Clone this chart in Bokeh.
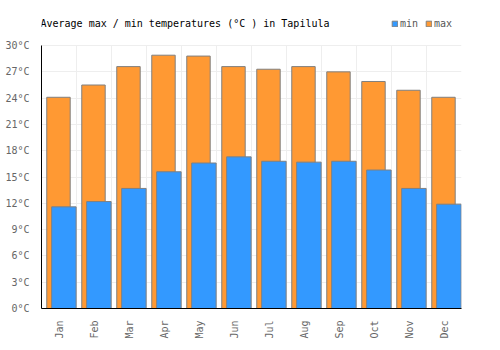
import numpy as np
from bokeh.plotting import figure
from bokeh.models import (ColumnDataSource, FixedTicker, PrintfTickFormatter,
                          Legend, LegendItem, Range1d, Label)
from bokeh.embed import file_html
from bokeh.resources import INLINE

months = ["Jan", "Feb", "Mar", "Apr", "May", "Jun",
          "Jul", "Aug", "Sep", "Oct", "Nov", "Dec"]
t_max = [24.1, 25.5, 27.6, 28.9, 28.8, 27.6, 27.3, 27.6, 27.0, 25.9, 24.9, 24.1]
t_min = [11.6, 12.2, 13.7, 15.6, 16.6, 17.3, 16.8, 16.7, 16.8, 15.8, 13.7, 11.9]
y_ticks = [0, 3, 6, 9, 12, 15, 18, 21, 24, 27, 30]

FONT = "DejaVu Sans Mono"
idx = np.arange(len(months))
src = ColumnDataSource(dict(
    month=months, tmax=t_max, tmin=t_min,
    xmax=idx + 0.485, xmin=idx + 0.64,
))

# frame extends above the 30°C line to host title and legend
p = figure(width=500, height=350, output_backend="svg", toolbar_location=None,
           x_range=Range1d(0, 12), y_range=Range1d(0, 34),
           min_border_left=41, min_border_right=39,
           min_border_top=10, min_border_bottom=42)
p.outline_line_color = None
p.background_fill_color = "white"
p.border_fill_color = "white"

r_max = p.vbar(x="xmax", top="tmax", bottom=0, width=0.67, source=src,
               fill_color="#ff9933", line_color="#808080", line_width=1)
r_min = p.vbar(x="xmin", top="tmin", bottom=0, width=0.70, source=src,
               fill_color="#3399ff", line_color="#808080", line_width=1)

# axes
p.yaxis.ticker = FixedTicker(ticks=y_ticks)
p.yaxis.formatter = PrintfTickFormatter(format="%d°C")
p.yaxis.bounds = (0, 30)
p.xaxis.ticker = FixedTicker(ticks=list(idx + 0.5))
p.xaxis.major_label_overrides = {float(i + 0.5): m for i, m in enumerate(months)}
p.xaxis.major_label_orientation = np.pi / 2
for ax in (p.xaxis, p.yaxis):
    ax.major_tick_line_color = None
    ax.minor_tick_line_color = None
    ax.axis_line_color = "black"
    ax.axis_line_width = 1
    ax.major_label_text_font = FONT
    ax.major_label_text_font_size = "10px"
    ax.major_label_text_color = "#666666"
    ax.major_label_standoff = 6

p.xgrid.ticker = FixedTicker(ticks=list(range(13)))
p.xgrid.bounds = (0, 12)
p.xgrid.cross_bounds = (0, 30)
p.ygrid.ticker = FixedTicker(ticks=y_ticks)
for g in (p.xgrid, p.ygrid):
    g.grid_line_color = "#eeeeee"
    g.grid_line_width = 1

# title
title = Label(x=0, y=32.5, x_offset=-1,
              text="Average max / min temperatures (°C ) in Tapilula",
              text_font=FONT, text_font_size="10px", text_color="black",
              text_baseline="middle", text_align="left")
p.add_layout(title)

legend = Legend(items=[LegendItem(label="min", renderers=[r_min]),
                       LegendItem(label="max", renderers=[r_max])],
                location=(350, 279), orientation="horizontal",
                glyph_width=7, glyph_height=7, label_standoff=2,
                label_width=18, spacing=7, padding=0, margin=0,
                label_text_font=FONT, label_text_font_size="10px",
                label_text_color="#555555",
                border_line_color=None, background_fill_alpha=0)
p.add_layout(legend)

open("out.html", "w").write(file_html(p, INLINE))
